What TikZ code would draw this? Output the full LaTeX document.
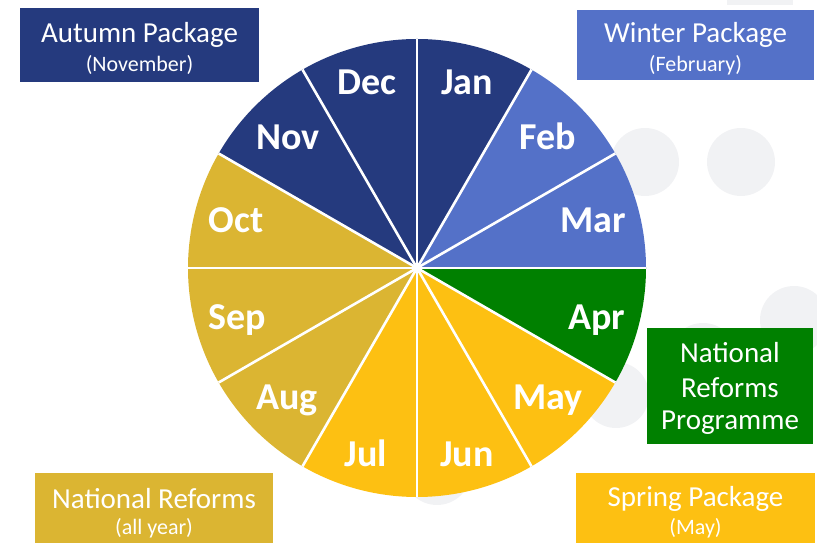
\documentclass[tikz,border=0pt]{standalone}
\usepackage{fontspec}
\setmainfont{Carlito}
\definecolor{navy}{RGB}{37,58,126}
\definecolor{midblue}{RGB}{84,113,200}
\definecolor{dgreen}{RGB}{0,128,0}
\definecolor{yell}{RGB}{253,192,18}
\definecolor{gold}{RGB}{219,181,50}
\definecolor{bggrey}{RGB}{241,242,244}
\tikzset{
  month/.style={text=white, font=\bfseries\fontsize{38}{40}\selectfont, anchor=base, inner sep=0pt},
  ttl/.style={text=white, font=\fontsize{29}{31}\selectfont, inner sep=0pt},
  sub/.style={text=white, font=\fontsize{22}{24}\selectfont, inner sep=0pt},
  sep/.style={white, line width=2.6pt}
}
\begin{document}
\begin{tikzpicture}[x=1pt,y=1pt]
\useasboundingbox (0,0) rectangle (817,543);
% background decoration
\fill[bggrey] (727,538) rectangle (793,543);
\fill[bggrey] (645,381) circle (34);
\fill[bggrey] (741,381) circle (34);
\fill[bggrey] (794,223) circle (34);
\fill[bggrey] (703,186) circle (34);
\fill[bggrey] (616,148) circle (33);
\fill[bggrey] (437,72) circle (34);
% pie
\coordinate (C) at (417,275);
\def\R{229}
\foreach \a/\col in {90/navy,60/midblue,30/midblue,0/dgreen,-30/yell,-60/yell,-90/yell,-120/gold,-150/gold,-180/gold,-210/navy,-240/navy}{
  \fill[\col] (C) -- ++(\a:\R) arc[start angle=\a, end angle=\a-30, radius=\R] -- cycle;
}
\foreach \a in {0,30,...,330}{
  \draw[sep] (C) -- ++(\a:\R);
}
\fill[white] (C) circle (4);
% month labels
\node[month] (jan) at (467,448) {Jan};
\node[month] (feb) at (548,393) {Feb};
\node[month] (mar) at (593,310) {Mar};
\node[month] (apr) at (597,213) {Apr};
\node[month] (may) at (548,133) {May};
\node[month] (jun) at (467,76) {Jun};
\node[month] (jul) at (366,76) {Jul};
\node[month] (aug) at (287,133) {Aug};
\node[month] (sep) at (237,213) {Sep};
\node[month] (oct) at (236,310) {Oct};
\node[month] (nov) at (288,393) {Nov};
\node[month] (dec) at (367,448) {Dec};
% boxes
\fill[navy] (20,461) rectangle (259,535);
\node[ttl] (autt) at (139.5,508) {Autumn Package};
\node[sub] (auts) at (139.5,478) {(November)};
\fill[midblue] (577,463) rectangle (814,533);
\node[ttl] (wint) at (695.5,508) {Winter Package};
\node[sub] (wins) at (695.5,478) {(February)};
\fill[dgreen] (647,99) rectangle (813,215);
\node[ttl] (nrp1) at (730,190) {National};
\node[ttl] (nrp2) at (730,155) {Reforms};
\node[ttl] (nrp3) at (730,120) {Programme};
\fill[gold] (35,0) rectangle (273,70);
\node[ttl] (nrt) at (154,44) {National Reforms};
\node[sub] (nrs) at (154,15) {(all year)};
\fill[yell] (576,0) rectangle (815,70);
\node[ttl] (spt) at (695.5,44) {Spring Package};
\node[sub] (sps) at (695.5,15) {(May)};
\end{tikzpicture}
\end{document}
